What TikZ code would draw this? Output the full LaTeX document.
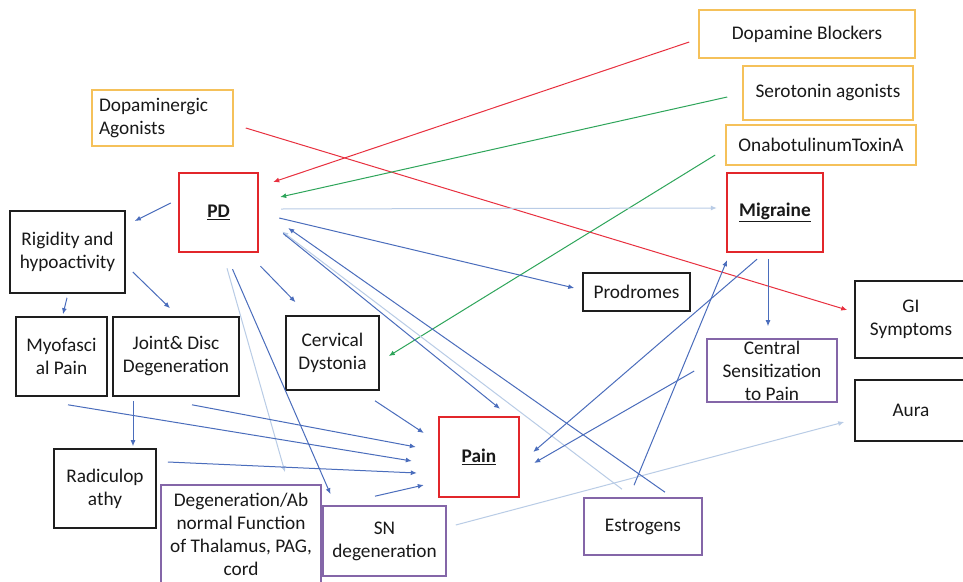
\documentclass[tikz,border=0pt]{standalone}
\usepackage{fontspec}
\setmainfont{Carlito}
\usetikzlibrary{arrows.meta,calc}
\definecolor{drugorange}{HTML}{F5C15A}
\definecolor{keyred}{HTML}{E2262B}
\definecolor{sitepurple}{HTML}{8466A8}
\definecolor{boxblack}{HTML}{1E1E1E}
\definecolor{linkblue}{HTML}{4A6DBC}
\definecolor{paleblue}{HTML}{B9CCE6}
\definecolor{redlink}{HTML}{E8303F}
\definecolor{greenlink}{HTML}{2EA55A}
\tikzset{
  box/.style={draw, rectangle, align=center, inner sep=1pt,
    font=\fontsize{19.3}{23}\selectfont, text=black!90},
  drugbox/.style={box, draw=drugorange, line width=1.6pt},
  keybox/.style={box, draw=keyred, line width=2.4pt},
  plainbox/.style={box, draw=boxblack, line width=1.6pt},
  purplebox/.style={box, draw=sitepurple, line width=1.6pt},
  sz/.style 2 args={minimum width=#1pt, minimum height=#2pt},
  tip/.style={-{Latex[length=6pt,width=5pt]}},
  link/.style={tip, draw=linkblue, line width=1pt},
  pale/.style={tip, draw=paleblue, line width=1pt},
  redarrow/.style={tip, draw=redlink, line width=1pt},
  greenarrow/.style={tip, draw=greenlink, line width=1pt},
}
\begin{document}
\begin{tikzpicture}[x=1pt,y=-1pt]
\useasboundingbox (0,0) rectangle (963,581);
\clip (0,0) rectangle (963,581);
\fill[white] (0,0) rectangle (963,581);

% treatments
\node[drugbox, sz={216}{48}] (db) at (807,34) {Dopamine Blockers};
\node[drugbox, sz={170}{54}] (sa) at (828,93) {Serotonin agonists};
\node[drugbox, sz={190}{40}] (ona) at (821,145) {OnabotulinumToxinA};
\node[drugbox, sz={141}{56}, align=left, text width=127pt] (da) at (162.5,118) {Dopaminergic\\Agonists};

% key conditions
\node[keybox, sz={79}{79}] (pd) at (218.5,212.5) {\underline{\textbf{PD}}};
\node[keybox, sz={96}{79}] (mig) at (775,212.5) {\underline{\textbf{Migraine}}};
\node[keybox, sz={80}{80}] (pain) at (479,457) {\underline{\textbf{Pain}}};

% mechanisms and symptoms
\node[plainbox, sz={115}{82}] (rig) at (67.5,252) {Rigidity and\\hypoactivity};
\node[plainbox, sz={91}{79}] (myo) at (61.5,356.5) {Myofasci\\al Pain};
\node[plainbox, sz={126}{79}] (jd) at (176,356.5) {Joint\& Disc\\Degeneration};
\node[plainbox, sz={102}{79}] (rad) at (105,488.5) {Radiculop\\athy};
\node[plainbox, sz={93}{74}] (cd) at (332.5,353) {Cervical\\Dystonia};
\node[plainbox, sz={107}{38}] (pro) at (636.5,292) {Prodromes};
\node[plainbox, sz={112}{77}] (gi) at (911,319.5) {GI\\Symptoms};
\node[plainbox, sz={112}{61}] (aura) at (911,410.5) {Aura};

\node[purplebox, sz={160}{98}] (deg) at (241,534) {Degeneration/Ab\\normal Function\\of Thalamus, PAG,\\cord};
\node[purplebox, sz={123}{70}] (sn) at (384.5,541) {SN\\degeneration};
\node[purplebox, sz={130}{63}, inner sep=0pt] (cs) at (772,370.5) {Central\\Sensitization\\to Pain};
\node[purplebox, sz={118}{57}] (est) at (643,526.5) {Estrogens};

% drug effects
\draw[redarrow] ($(db.west)+(-9,8)$) -- ($(pd.east)+(14,-30.5)$);
\draw[redarrow] ($(da.east)+(12,10)$) -- ($(gi.west)+(-7,-9.5)$);
\draw[greenarrow] ($(sa.west)+(-15,4)$) -- ($(pd.east)+(21,-15.5)$);
\draw[greenarrow] ($(ona.west)+(-10,10)$) -- ($(cd.east)+(9,3)$);

% faint links
\draw[pale] ($(pd.east)+(22,-3.5)$) -- ($(mig.west)+(-9,-4.5)$);
\draw[pale] ($(sn.east)+(9,-16)$) -- ($(aura.west)+(-10,11.5)$);
\draw[pale] ($(pd.south)+(8.5,15)$) -- ($(deg.north)+(44,-12)$);
\draw[pale] ($(est.north)+(-21,-8)$) -- ($(pd.east)+(23,19)$);

% PD pathways
\draw[link] ($(pd.west)+(-7,-9.5)$) -- ($(rig.east)+(9,-31)$);
\draw[link] ($(rig.south)+(-0.5,4)$) -- ($(myo.north)+(1.5,-2)$);
\draw[link] ($(rig.east)+(7,20)$) -- ($(jd.north)+(-6,-8)$);
\draw[link] ($(pd.south)+(42,13)$) -- ($(cd.north)+(-37,-13)$);
\draw[link] ($(pd.south)+(14,16)$) -- ($(sn.north)+(-54,-11)$);
\draw[link] ($(jd.south)+(-43,4)$) -- ($(rad.north)+(28,-2)$);
\draw[link] ($(pd.east)+(20,5.5)$) -- ($(pro.west)+(-8,-4)$);
\draw[link] ($(pd.east)+(24,21)$) -- ($(pain.north)+(21,-7)$);
\draw[link] ($(est.north)+(22,-5)$) -- ($(pd.east)+(29,15.5)$);

% contributions to pain
\draw[link] ($(myo.south)+(6.5,8)$) -- ($(pain.west)+(-26,4)$);
\draw[link] ($(jd.south)+(16,8)$) -- ($(pain.west)+(-22,-10)$);
\draw[link] ($(rad.east)+(11,-26.5)$) -- ($(pain.west)+(-21,16)$);
\draw[link] ($(cd.south)+(42.5,10)$) -- ($(pain.west)+(-14,-24)$);
\draw[link] ($(sn.north)+(-9.5,-9)$) -- ($(pain.west)+(-14,28)$);

% migraine pathways
\draw[link] ($(mig.south)+(-7,6)$) -- ($(cs.north)+(-4,-12)$);
\draw[link] ($(mig.south)+(-18,6)$) -- ($(pain.east)+(13,-5)$);
\draw[link] ($(cs.west)+(-12,0.5)$) -- ($(pain.east)+(14,6)$);
\draw[link] ($(est.north)+(-9,-12)$) -- ($(mig.south)+(-48,7)$);
\end{tikzpicture}
\end{document}
